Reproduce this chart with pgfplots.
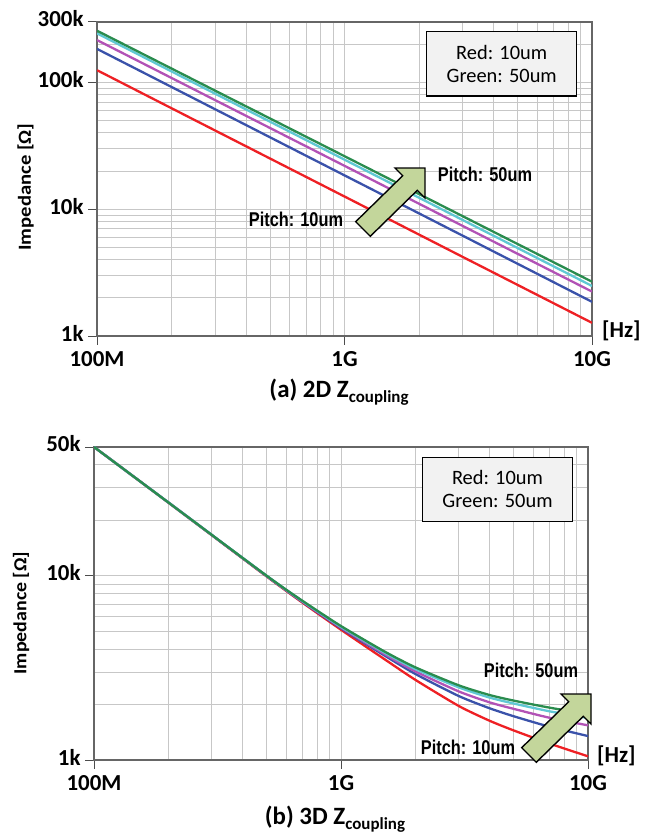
\documentclass[border=0pt]{standalone}
\usepackage{fontspec}
\setmainfont{Carlito}
\newfontfamily\narrowfont{Liberation Sans}
\usepackage{graphicx}
\usepackage{pgfplots}
\pgfplotsset{compat=1.18}

\definecolor{cgreen}{RGB}{42,140,78}
\definecolor{ccyan}{RGB}{95,200,212}
\definecolor{cmag}{RGB}{178,82,182}
\definecolor{cblue}{RGB}{58,82,170}
\definecolor{cred}{RGB}{238,32,36}
\definecolor{arrowfill}{RGB}{195,214,155}
\definecolor{boxfill}{RGB}{242,242,242}

\newcommand{\pitch}[1]{\scalebox{0.82}[1]{\narrowfont\bfseries\fontsize{20}{20}\selectfont #1}}

\begin{document}
\begin{tikzpicture}
\useasboundingbox (0,0) rectangle (667bp,-838bp);

% ---------------- (a) 2D ----------------
\begin{axis}[
  xmode=log, ymode=log, scale only axis,
  xmin=1e8, xmax=1e10,
  grid=both,
  major grid style={draw=black!22, line width=0.9pt},
  minor grid style={draw=black!22, line width=0.9pt},
  axis line style={draw=black!60, line width=1.2pt},
  tick pos=left,
  tick align=outside, major tick length=9bp, minor tick length=0pt,
  tick style={draw=black!70, line width=1pt},
  xtick={1e8,1e9,1e10}, xticklabels={100M,1G,10G},
  minor xtick={2e8,3e8,4e8,5e8,6e8,7e8,8e8,9e8,2e9,3e9,4e9,5e9,6e9,7e9,8e9,9e9},
  ticklabel style={font=\fontsize{23}{23}\selectfont\bfseries},
  xticklabel style={yshift=-3bp},
  yticklabel style={yshift=3bp, xshift=-1bp},
  at={(97bp,-336bp)}, anchor=south west,
  width=495bp, height=314bp,
  ymin=1e3, ymax=3e5,
  ytick={1e3,1e4,1e5,3e5}, yticklabels={1k,10k,100k,300k},
  minor ytick={2e3,3e3,4e3,5e3,6e3,7e3,8e3,9e3,2e4,3e4,4e4,5e4,6e4,7e4,8e4,9e4,2e5},
]
\addplot[cred, line width=2.3bp] coordinates {(1e8,125000) (3e8,41800) (1e9,12600) (3e9,4210) (1e10,1270)};
\addplot[cblue, line width=2.3bp] coordinates {(1e8,184000) (3e8,61500) (1e9,18500) (3e9,6190) (1e10,1860)};
\addplot[cmag, line width=2.3bp] coordinates {(1e8,216000) (3e8,72600) (1e9,22000) (3e9,7390) (1e10,2240)};
\addplot[ccyan, line width=2.3bp] coordinates {(1e8,244000) (3e8,81600) (1e9,24600) (3e9,8230) (1e10,2480)};
\addplot[cgreen, line width=2.3bp] coordinates {(1e8,256000) (3e8,86200) (1e9,26200) (3e9,8820) (1e10,2680)};
\end{axis}

% ---------------- (b) 3D ----------------
\begin{axis}[
  xmode=log, ymode=log, scale only axis,
  xmin=1e8, xmax=1e10,
  grid=both,
  major grid style={draw=black!22, line width=0.9pt},
  minor grid style={draw=black!22, line width=0.9pt},
  axis line style={draw=black!60, line width=1.2pt},
  tick pos=left,
  tick align=outside, major tick length=9bp, minor tick length=0pt,
  tick style={draw=black!70, line width=1pt},
  xtick={1e8,1e9,1e10}, xticklabels={100M,1G,10G},
  minor xtick={2e8,3e8,4e8,5e8,6e8,7e8,8e8,9e8,2e9,3e9,4e9,5e9,6e9,7e9,8e9,9e9},
  ticklabel style={font=\fontsize{23}{23}\selectfont\bfseries},
  xticklabel style={yshift=-3bp},
  yticklabel style={yshift=3bp, xshift=-1bp},
  at={(94bp,-760bp)}, anchor=south west,
  width=494bp, height=313bp,
  ymin=1e3, ymax=5e4,
  ytick={1e3,1e4,5e4}, yticklabels={1k,10k,50k},
  minor ytick={2e3,3e3,4e3,5e3,6e3,7e3,8e3,9e3,2e4,3e4,4e4},
]
\addplot[cred, line width=2.3bp, smooth, tension=0.4] coordinates {(1e8,50000) (2e8,24950) (5e8,9910) (7e8,7129) (1e9,5093) (1.5e9,3524) (2e9,2723) (3e9,1963) (4e9,1632) (5e9,1447) (7e9,1227) (1e10,1047)};
\addplot[cblue, line width=2.3bp, smooth, tension=0.4] coordinates {(1e8,50000) (2e8,25000) (5e8,9954) (7e8,7194) (1e9,5188) (1.5e9,3690) (2e9,2931) (3e9,2223) (4e9,1908) (5e9,1728) (7e9,1514) (1e10,1349)};
\addplot[cmag, line width=2.3bp, smooth, tension=0.4] coordinates {(1e8,50000) (2e8,25000) (5e8,9977) (7e8,7228) (1e9,5236) (1.5e9,3758) (2e9,3027) (3e9,2355) (4e9,2054) (5e9,1895) (7e9,1694) (1e10,1542)};
\addplot[ccyan, line width=2.3bp, smooth, tension=0.4] coordinates {(1e8,50000) (2e8,25000) (5e8,10000) (7e8,7261) (1e9,5284) (1.5e9,3828) (2e9,3119) (3e9,2477) (4e9,2181) (5e9,2026) (7e9,1837) (1e10,1690)};
\addplot[cgreen, line width=2.3bp, smooth, tension=0.4] coordinates {(1e8,50000) (2e8,25000) (5e8,10000) (7e8,7295) (1e9,5333) (1.5e9,3882) (2e9,3184) (3e9,2541) (4e9,2252) (5e9,2101) (7e9,1923) (1e10,1778)};
\end{axis}

% ---------------- annotations (image coordinates) ----------------
\begin{scope}[x=1bp, y=-1bp]
  \node[rotate=90, inner sep=0] at (25.5,187) {\scalebox{1.12}[1]{\fontsize{18.5}{18.5}\selectfont\bfseries Impedance [Ω]}};
  \node[rotate=90, inner sep=0] at (21,613) {\scalebox{1.08}[1]{\fontsize{18.5}{18.5}\selectfont\bfseries Impedance [Ω]}};
  \node[anchor=base west, font=\fontsize{23}{23}\selectfont\bfseries, inner sep=0] at (602,337) {[Hz]};
  \node[anchor=base west, font=\fontsize{23}{23}\selectfont\bfseries, inner sep=0] at (597,762) {[Hz]};
  \node[anchor=base, font=\fontsize{25}{25}\selectfont\bfseries, inner sep=0] at (339,397) {(a) 2D Z\raisebox{-5bp}{\fontsize{17}{17}\selectfont coupling}};
  \node[anchor=base, font=\fontsize{25}{25}\selectfont\bfseries, inner sep=0] at (335,824) {(b) 3D Z\raisebox{-5bp}{\fontsize{17}{17}\selectfont coupling}};
  \draw[fill=boxfill, draw=black, line width=1.3pt] (426.7,31.7) rectangle (576.7,96);
  \node[anchor=base, font=\fontsize{20.5}{20.5}\selectfont, inner sep=0] at (501.7,59) {Red: 10um};
  \node[anchor=base, font=\fontsize{20.5}{20.5}\selectfont, inner sep=0] at (501.7,82) {Green: 50um};
  \draw[fill=boxfill, draw=black, line width=1.3pt] (422.7,457.3) rectangle (572.3,521.3);
  \node[anchor=base, font=\fontsize{20.5}{20.5}\selectfont, inner sep=0] at (497.5,484) {Red: 10um};
  \node[anchor=base, font=\fontsize{20.5}{20.5}\selectfont, inner sep=0] at (497.5,507.5) {Green: 50um};
  \draw[fill=arrowfill, draw=black, line width=1.4pt, line join=miter]
    (355.7,221.7) -- (402.7,175.7) -- (395,168) -- (425,168) -- (425,198) -- (417.3,190.3) -- (370.3,236.3) -- cycle;
  \draw[fill=arrowfill, draw=black, line width=1.4pt, line join=miter]
    (521.7,747.7) -- (568.7,701.7) -- (561,694) -- (591,694) -- (591,724) -- (583.3,716.3) -- (536.3,762.3) -- cycle;
  \node[anchor=base, inner sep=0] at (485,181) {\pitch{Pitch: 50um}};
  \node[anchor=base, inner sep=0] at (296,226) {\pitch{Pitch: 10um}};
  \node[anchor=base, inner sep=0] at (531,677) {\pitch{Pitch: 50um}};
  \node[anchor=base, inner sep=0] at (468,754) {\pitch{Pitch: 10um}};
\end{scope}
\end{tikzpicture}
\end{document}
